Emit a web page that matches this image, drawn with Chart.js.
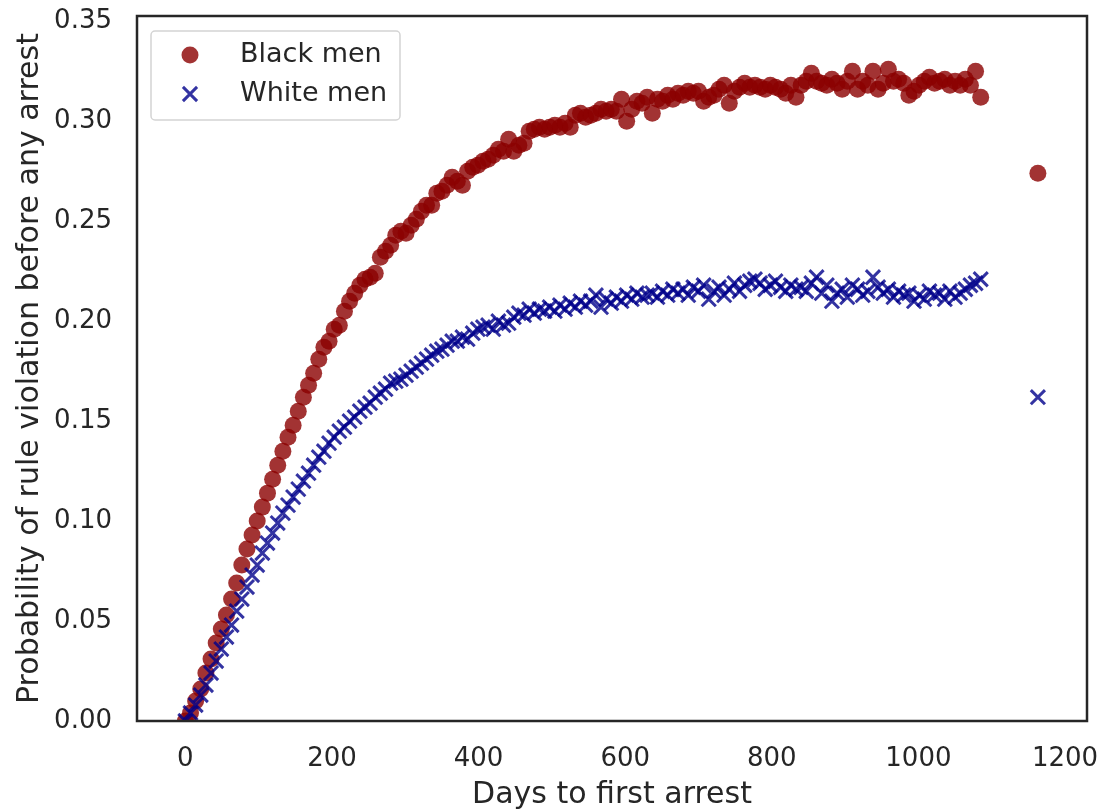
<!DOCTYPE html>
<html>
<head>
<meta charset="utf-8">
<script src="https://cdn.jsdelivr.net/npm/chart.js@4.4.1/dist/chart.umd.min.js"></script>
<style>
  html, body { margin: 0; padding: 0; background: #fff; }
  canvas { display: block; }
</style>
</head>
<body>
<canvas id="chart" width="1104" height="811"></canvas>
<script>
// days to first arrest (weekly bins, last bin is the long tail)
const days = [
  0, 7, 14, 21, 28, 35, 42, 49, 56, 63,
  70, 77, 84, 91, 98, 105, 112, 119, 126, 133,
  140, 147, 154, 161, 168, 175, 182, 189, 196, 203,
  210, 217, 224, 231, 238, 245, 252, 259, 266, 273,
  280, 287, 294, 301, 308, 315, 322, 329, 336, 343,
  350, 357, 364, 371, 378, 385, 392, 399, 406, 413,
  420, 427, 434, 441, 448, 455, 462, 469, 476, 483,
  490, 497, 504, 511, 518, 525, 532, 539, 546, 553,
  560, 567, 574, 581, 588, 595, 602, 609, 616, 623,
  630, 637, 644, 651, 658, 665, 672, 679, 686, 693,
  700, 707, 714, 721, 728, 735, 742, 749, 756, 763,
  770, 777, 784, 791, 798, 805, 812, 819, 826, 833,
  840, 847, 854, 861, 868, 875, 882, 889, 896, 903,
  910, 917, 924, 931, 938, 945, 952, 959, 966, 973,
  980, 987, 994, 1001, 1008, 1015, 1022, 1029, 1036, 1043,
  1050, 1057, 1064, 1071, 1078, 1085, 1163
];

const blackMen = [
  0.000, 0.004, 0.010, 0.016, 0.024, 0.031, 0.039, 0.046, 0.053, 0.061,
  0.069, 0.078, 0.086, 0.093, 0.100, 0.107, 0.114, 0.121, 0.128, 0.135,
  0.142, 0.148, 0.155, 0.162, 0.168, 0.174, 0.181, 0.187, 0.190, 0.196,
  0.198, 0.205, 0.210, 0.214, 0.218, 0.221, 0.222, 0.224, 0.232, 0.235,
  0.238, 0.243, 0.245, 0.244, 0.248, 0.251, 0.255, 0.258, 0.258, 0.264,
  0.265, 0.268, 0.272, 0.270, 0.268, 0.275, 0.277, 0.278, 0.280, 0.281,
  0.283, 0.286, 0.285, 0.291, 0.285, 0.288, 0.289, 0.295, 0.296, 0.297,
  0.296, 0.297, 0.298, 0.297, 0.299, 0.297, 0.303, 0.304, 0.302, 0.303,
  0.304, 0.306, 0.305, 0.306, 0.305, 0.311, 0.300, 0.306, 0.310, 0.309,
  0.312, 0.304, 0.311, 0.310, 0.313, 0.311, 0.314, 0.313, 0.315, 0.314,
  0.315, 0.310, 0.312, 0.313, 0.316, 0.318, 0.309, 0.315, 0.317, 0.319,
  0.317, 0.318, 0.317, 0.316, 0.318, 0.317, 0.316, 0.314, 0.318, 0.312,
  0.318, 0.320, 0.324, 0.320, 0.319, 0.318, 0.321, 0.319, 0.316, 0.320,
  0.325, 0.316, 0.320, 0.318, 0.325, 0.316, 0.319, 0.326, 0.320, 0.321,
  0.319, 0.313, 0.315, 0.318, 0.320, 0.322, 0.319, 0.320, 0.321, 0.318,
  0.320, 0.318, 0.321, 0.318, 0.325, 0.312, 0.274
];

const whiteMen = [
  0.000, 0.004, 0.008, 0.013, 0.018, 0.024, 0.030, 0.036, 0.042, 0.048,
  0.055, 0.061, 0.067, 0.073, 0.078, 0.084, 0.089, 0.094, 0.099, 0.104,
  0.108, 0.112, 0.116, 0.120, 0.124, 0.128, 0.132, 0.135, 0.139, 0.142,
  0.145, 0.147, 0.150, 0.152, 0.155, 0.157, 0.159, 0.162, 0.164, 0.166,
  0.169, 0.170, 0.171, 0.173, 0.175, 0.177, 0.179, 0.181, 0.183, 0.185,
  0.186, 0.188, 0.190, 0.190, 0.192, 0.191, 0.194, 0.196, 0.197, 0.198,
  0.196, 0.200, 0.198, 0.199, 0.202, 0.204, 0.203, 0.206, 0.204, 0.206,
  0.205, 0.207, 0.205, 0.208, 0.206, 0.209, 0.207, 0.210, 0.208, 0.210,
  0.213, 0.207, 0.211, 0.209, 0.212, 0.210, 0.213, 0.211, 0.214, 0.212,
  0.213, 0.214, 0.212, 0.215, 0.213, 0.216, 0.214, 0.216, 0.213, 0.217,
  0.215, 0.218, 0.211, 0.215, 0.217, 0.213, 0.216, 0.219, 0.215, 0.218,
  0.220, 0.221, 0.219, 0.216, 0.218, 0.220, 0.217, 0.215, 0.218, 0.216,
  0.217, 0.215, 0.219, 0.222, 0.214, 0.218, 0.210, 0.214, 0.216, 0.212,
  0.218, 0.216, 0.213, 0.215, 0.222, 0.217, 0.214, 0.216, 0.212, 0.215,
  0.213, 0.214, 0.210, 0.213, 0.211, 0.215, 0.213, 0.214, 0.211, 0.215,
  0.212, 0.214, 0.216, 0.218, 0.219, 0.221, 0.162
];

const seriesNames = ['Black men', 'White men'];
const xTicks = [0, 200, 400, 600, 800, 1000, 1200];
const yTicks = [0, 0.05, 0.10, 0.15, 0.20, 0.25, 0.30, 0.35];

const FONT = "'DejaVu Sans', sans-serif";
const INK = '#262626';

const toPoints = (values) => days.map((d, i) => ({ x: d, y: values[i] }));

// box around the plotting area
const framePlugin = {
  id: 'frame',
  afterDatasetsDraw(chart) {
    const { ctx, chartArea: a } = chart;
    ctx.save();
    ctx.strokeStyle = INK;
    ctx.lineWidth = 2.5;
    ctx.strokeRect(a.left, a.top, a.right - a.left, a.bottom - a.top);
    ctx.restore();
  }
};

// legend box in the upper left corner of the plot
const boxLegend = {
  id: 'boxLegend',
  afterDraw(chart) {
    const { ctx } = chart;
    ctx.save();
    ctx.beginPath();
    ctx.roundRect(151, 31, 249, 89, 4);
    ctx.fillStyle = 'rgba(255,255,255,0.8)';
    ctx.fill();
    ctx.strokeStyle = '#d4d4d4';
    ctx.lineWidth = 1.5;
    ctx.stroke();

    const rows = [55, 94];
    chart.data.datasets.forEach((ds, i) => {
      ctx.fillStyle = ds.backgroundColor;
      ctx.strokeStyle = ds.borderColor;
      if (ds.pointStyle === 'circle') {
        ctx.beginPath();
        ctx.arc(190, rows[i], ds.pointRadius, 0, Math.PI * 2);
        ctx.fill();
      } else {
        ctx.lineWidth = ds.borderWidth;
        Chart.helpers.drawPoint(ctx, { pointStyle: ds.pointStyle, radius: ds.pointRadius, borderWidth: ds.borderWidth }, 190, rows[i]);
      }
      ctx.fillStyle = INK;
      ctx.font = '27px ' + FONT;
      ctx.textBaseline = 'middle';
      ctx.textAlign = 'left';
      ctx.fillText(seriesNames[i], 240, rows[i]);
    });
    ctx.restore();
  }
};

new Chart(document.getElementById('chart').getContext('2d'), {
  type: 'scatter',
  data: {
    datasets: [
      {
        label: seriesNames[0],
        data: toPoints(blackMen),
        pointStyle: 'circle',
        pointRadius: 8.5,
        borderWidth: 0,
        backgroundColor: 'rgba(139,0,0,0.8)',
        borderColor: 'rgba(139,0,0,0.8)',
        clip: 0,
        order: 1
      },
      {
        label: seriesNames[1],
        data: toPoints(whiteMen),
        pointStyle: 'crossRot',
        pointRadius: 10,
        borderWidth: 3,
        backgroundColor: 'rgba(0,0,139,0.8)',
        borderColor: 'rgba(0,0,139,0.8)',
        clip: 0,
        order: 0
      }
    ]
  },
  options: {
    responsive: false,
    animation: false,
    devicePixelRatio: 1,
    layout: { padding: { top: 16, right: 17, left: 0, bottom: 0 } },
    plugins: {
      legend: { display: false },
      tooltip: { enabled: false }
    },
    scales: {
      x: {
        type: 'linear',
        min: -66,
        max: 1230,
        grid: { display: false, drawTicks: false },
        border: { display: false },
        ticks: {
          color: INK,
          font: { family: FONT, size: 26 },
          padding: 23,
          maxRotation: 0,
          callback: (v) => String(v)
        },
        afterBuildTicks: (s) => { s.ticks = xTicks.map((v) => ({ value: v })); },
        afterFit: (s) => {
          s.height = 90;
          s.paddingLeft = 0;
          s.paddingRight = 0;
        },
        title: {
          display: true,
          text: 'Days to first arrest',
          color: INK,
          font: { family: FONT, size: 30 },
          padding: { top: 0, bottom: -2 }
        }
      },
      y: {
        type: 'linear',
        min: 0,
        max: 0.3527,
        grid: { display: false, drawTicks: false },
        border: { display: false },
        ticks: {
          color: INK,
          font: { family: FONT, size: 26 },
          padding: 25,
          callback: (v) => v.toFixed(2)
        },
        afterBuildTicks: (s) => { s.ticks = yTicks.map((v) => ({ value: v })); },
        afterFit: (s) => {
          s.width = 137;
          s.paddingTop = 0;
          s.paddingBottom = 0;
        },
        title: {
          display: true,
          text: 'Probability of rule violation before any arrest',
          color: INK,
          font: { family: FONT, size: 30 },
          padding: { top: 12, bottom: 0 }
        }
      }
    }
  },
  plugins: [framePlugin, boxLegend]
});
</script>
</body>
</html>
